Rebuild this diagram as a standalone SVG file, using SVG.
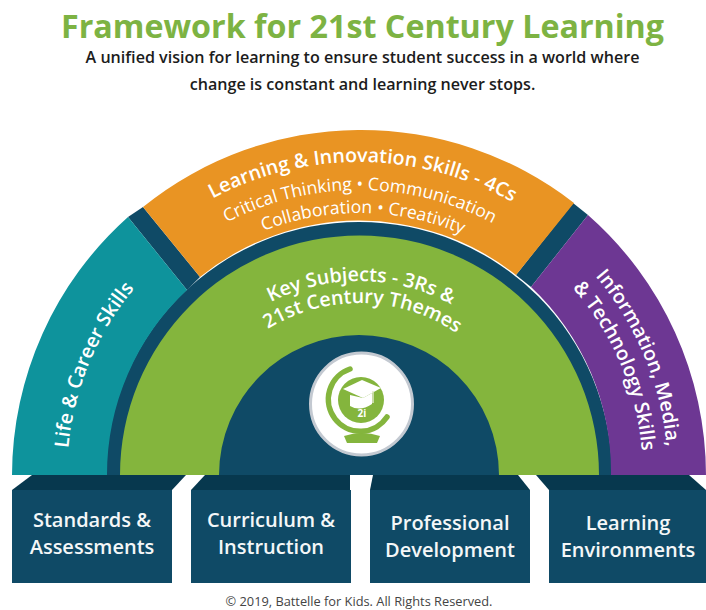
<svg xmlns="http://www.w3.org/2000/svg" width="706" height="610" viewBox="0 0 706 610">
<style>
text{font-family:"Open Sans","Noto Sans","Liberation Sans",sans-serif}
.w{fill:#fff;font-weight:600;text-anchor:middle}
.box{fill:#0f4a66}.top{fill:#07384e}
.h{font-size:19.6px}.s{font-size:17.6px;font-weight:400}
.b{font-size:20px;font-weight:600;fill:#f4f7f8;text-anchor:middle}
</style>
<defs>
<path id="a313" d="M46 475A313 313 0 0 1 672 475"/>
<path id="a285" d="M74 475A285 285 0 0 1 644 475"/>
<path id="a262" d="M97 475A262 262 0 0 1 621 475"/>
<path id="a194" d="M165 475A194 194 0 0 1 553 475"/>
<path id="a172" d="M187 475A172 172 0 0 1 531 475"/>
<path id="a292" d="M67 475A292 292 0 0 1 651 475"/>
<path id="a309" d="M50 475A309 309 0 0 1 668 475"/>
<path id="a284" d="M75 475A284 284 0 0 1 643 475"/>
</defs>
<rect width="706" height="610" fill="#fff"/>
<g id="title">
<text x="362.500" y="38" text-anchor="middle" font-size="33" font-weight="700" fill="#7db343" textLength="603" lengthAdjust="spacingAndGlyphs">Framework for 21st Century Learning</text>
<text x="362.500" y="63" text-anchor="middle" font-size="16.100" font-weight="600" fill="#1c1c1c">A unified vision for learning to ensure student success in a world where</text>
<text x="362.500" y="90" text-anchor="middle" font-size="16.100" font-weight="600" fill="#1c1c1c">change is constant and learning never stops.</text>
</g>
<g id="arch-base" fill="#0f4a66">
<path d="M106 475A253 253 0 0 1 612 475Z"/>
<path d="M128 217L143 207L200 277L187 290Z"/>
<path d="M573 203L588 215L531 287L516 275Z"/>
</g>
<g id="life-career">
<path d="M12 475A347 347 0 0 1 128 217L187 290A253 253 0 0 0 107 475Z" fill="#0e939c"/>
<text class="w h"><textPath href="#a292" startOffset="12.500%">Life &amp; Career Skills</textPath></text>
</g>
<g id="learning-innovation">
<path d="M143 207A347 347 0 0 1 574 203L516 275A253 253 0 0 0 200 277Z" fill="#e99423"/>
<text class="w h"><textPath href="#a313" startOffset="50.400%">Learning &amp; Innovation Skills - 4Cs</textPath></text>
<text class="w s"><textPath href="#a285" startOffset="50.100%">Critical Thinking • Communication</textPath></text>
<text class="w s"><textPath href="#a262" startOffset="50.500%">Collaboration • Creativity</textPath></text>
</g>
<g id="info-media">
<path d="M588 215A347 347 0 0 1 706 475H611A253 253 0 0 0 531 287Z" fill="#6d3793"/>
<text class="w h"><textPath href="#a309" startOffset="87.400%">Information, Media,</textPath></text>
<text class="w h"><textPath href="#a284" startOffset="87.200%">&amp; Technology Skills</textPath></text>
</g>
<g id="key-subjects">
<path d="M120 475A239.500 239.500 0 0 1 599 475H499A140 140 0 0 0 219 475Z" fill="#84b53d"/>
<text class="w h"><textPath href="#a194" startOffset="50.400%">Key Subjects - 3Rs &amp;</textPath></text>
<text class="w h"><textPath href="#a172" startOffset="50.700%">21st Century Themes</textPath></text>
</g>
<g id="globe">
<circle cx="361.500" cy="404" r="51" fill="#fff" stroke="#c3c9d1" stroke-width="3"/>
<circle cx="361" cy="400" r="23" fill="#84b53d"/>
<path d="M350 369A32 32 0 1 0 387 417" fill="none" stroke="#84b53d" stroke-width="5.500" stroke-linecap="round"/>
<path d="M344 436Q362 430 380 436L377 443H347Z" fill="#84b53d"/>
<path d="M343 389L362 380L381 388L363 398Z" fill="#fff"/>
<path d="M350 395V406Q360 412 372 404V393L363 398Z" fill="#fff"/>
<path d="M373 391V403" stroke="#dfe8c8" stroke-width="1.500" fill="none"/>
<text x="362" y="417" text-anchor="middle" font-size="10" font-weight="700" fill="#fff">2i</text>
</g>
<g id="standards"><path class="top" d="M12 490L32 475H186L172 490Z"/><rect class="box" x="12" y="490" width="160" height="93"/>
<text class="b" x="92" y="527">Standards &amp;</text><text class="b" x="92" y="554">Assessments</text></g>
<g id="curriculum"><path class="top" d="M191 490L205 475H350V490Z"/><rect class="box" x="191" y="490" width="160" height="93"/>
<text class="b" x="271" y="527">Curriculum &amp;</text><text class="b" x="271" y="554">Instruction</text></g>
<g id="professional"><path class="top" d="M370 490L373 475H518L530 490Z"/><rect class="box" x="370" y="490" width="160" height="93"/>
<text class="b" x="450" y="530">Professional</text><text class="b" x="450" y="557">Development</text></g>
<g id="environments"><path class="top" d="M549 490L536 475H689L706 490Z"/><rect class="box" x="549" y="490" width="157" height="93"/>
<text class="b" x="628" y="530">Learning</text><text class="b" x="628" y="557">Environments</text></g>
<text id="copyright" x="359" y="606" text-anchor="middle" font-size="12.800" fill="#444">© 2019, Battelle for Kids. All Rights Reserved.</text>
</svg>
